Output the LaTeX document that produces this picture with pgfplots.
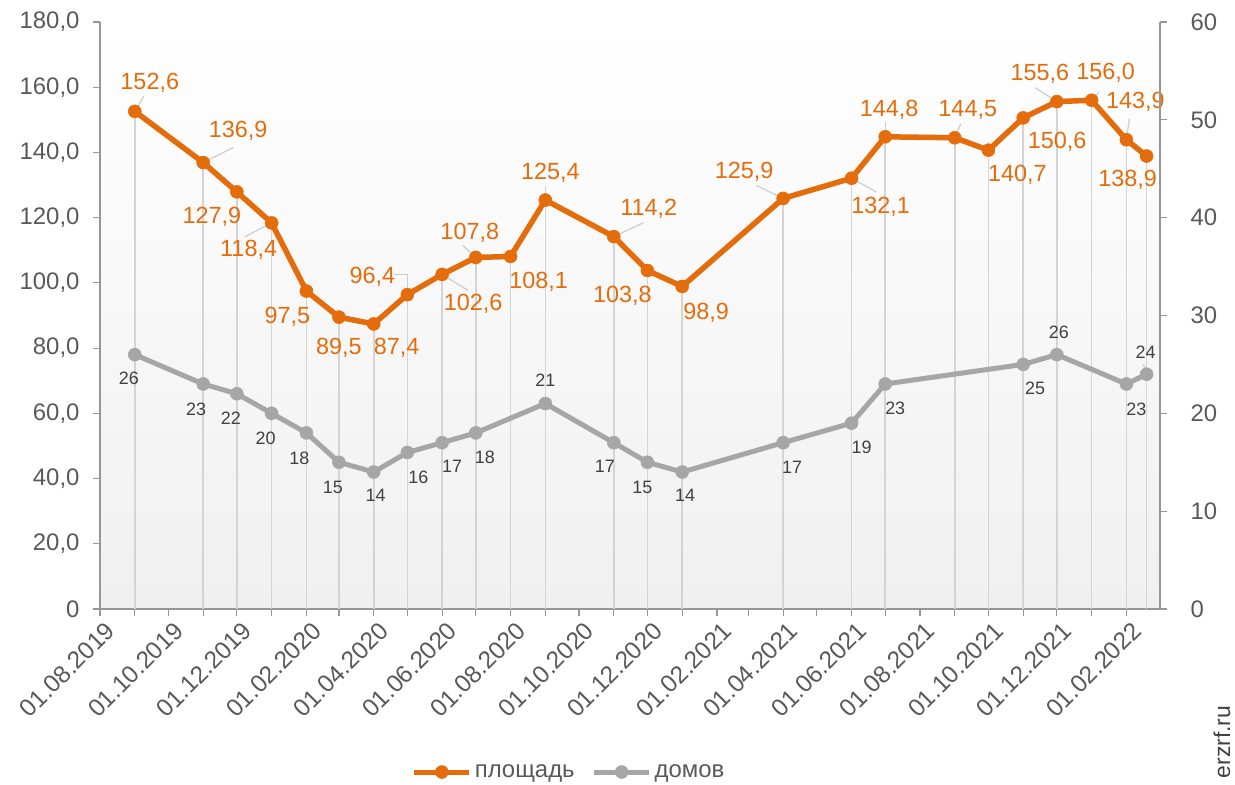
\documentclass[border=0pt]{standalone}
\usepackage{pgfplots}
\pgfplotsset{compat=1.18}
\usepackage{pgfplotstable}
\usepackage{fontspec}
\setmainfont{Liberation Sans}
\definecolor{cOrange}{RGB}{228,108,10}
\definecolor{cGray}{RGB}{166,166,166}
\definecolor{cTick}{RGB}{89,89,89}
\definecolor{cLab}{RGB}{64,64,64}
\definecolor{cDrop}{RGB}{212,212,212}
\definecolor{cLeader}{RGB}{205,205,205}
\definecolor{cAxis}{RGB}{150,150,150}
\definecolor{cBg}{RGB}{240,240,240}

% x = days since 01.08.2019
\pgfplotstableread{
x y dx dy
31 152.6 15 29
92 136.9 35 32
122 127.9 -25 -25
153 118.4 -23 -27
184 97.5 -19 -26
213 89.5 0 -31
244 87.4 23 -24
274 96.4 -35 18
305 102.6 31 -29
335 107.8 -6 25
366 108.1 28 -25
397 125.4 5 27
458 114.2 35 28
488 103.8 -25 -25
519 98.9 24 -26
609 125.9 -39 27
670 132.1 29 -29
700 144.8 4 27
762 144.5 13 28
792 140.7 29 -25
823 150.6 34 -24
853 155.6 -17 28
884 156.0 14 27
915 143.9 9 38
933 138.9 -19 -24
}\orangedata

\pgfplotstableread{
x y dx dy
31 26 -6 -24
92 23 -7 -25
122 22 -6 -24
153 20 -6 -25
184 18 -7 -25
213 15 -6 -25
244 14 2 -23
274 16 11 -25
305 17 10 -24
335 18 9 -24
397 21 0 23
458 17 -9 -24
488 15 -5 -25
519 14 3 -23
609 17 9 -25
670 19 10 -24
700 23 10 -24
823 25 12 -24
853 26 2 22
915 23 10 -25
933 24 -1 22
}\graydata

\pgfplotsset{
  /pgf/number format/assume math mode=true,
  common/.style={
    at={(0,0)}, anchor=south west, scale only axis,
    width=1060bp, height=587bp,
    xmin=0, xmax=945,
    clip=false,
    axis line style={cAxis, line width=1.2bp},
    tick style={cAxis, line width=1.2bp},
    tick align=outside,
    major tick length=7bp, minor tick length=7bp,
    tick label style={font=\fontsize{24}{28}\selectfont, text=cTick},
  },
  legend image code/.code={\draw[mark repeat=2,mark phase=2,#1] plot coordinates {(0bp,0bp) (27.5bp,0bp) (55bp,0bp)};},
}

\begin{document}
\begin{tikzpicture}
\shade[top color=white, bottom color=cBg] (0,0) rectangle (1060bp,587bp);
\begin{axis}[common,
  ymin=0, ymax=180,
  axis x line*=bottom, axis y line*=left,
  xtick={0,61,122,184,244,305,366,427,488,550,609,670,731,792,853,915},
  xticklabels={01.08.2019,01.10.2019,01.12.2019,01.02.2020,01.04.2020,01.06.2020,01.08.2020,01.10.2020,01.12.2020,01.02.2021,01.04.2021,01.06.2021,01.08.2021,01.10.2021,01.12.2021,01.02.2022},
  minor xtick={31,92,153,213,274,335,397,458,519,578,639,700,762,823,884},
  xticklabel style={rotate=45, anchor=north east, font=\fontsize{24.5}{28}\selectfont, inner sep=2bp, yshift=-4bp, xshift=2bp},
  ytick={0,20,...,180},
  yticklabel style={xshift=-10bp},
  yticklabels={0,{20,0},{40,0},{60,0},{80,0},{100,0},{120,0},{140,0},{160,0},{180,0}},
]
\addplot[ycomb, draw=cDrop, line width=1.6bp, no markers] table[x=x,y=y] {\orangedata};
\begin{scope}[cLeader, line width=1.2bp]
\draw (axis cs:31,152.6) -- ++(9bp,15bp);
\draw (axis cs:92,136.9) -- ++(30bp,15bp);
\draw (axis cs:153,118.4) -- ++(-27bp,-14bp);
\draw (axis cs:274,96.4) -- ++(0bp,20bp) -- ++(-13bp,0bp);
\draw (axis cs:335,107.8) -- ++(-13bp,12bp);
\draw (axis cs:305,102.6) -- ++(26bp,-16bp);
\draw (axis cs:458,114.2) -- ++(30bp,14bp);
\draw (axis cs:397,125.4) -- ++(0bp,14bp);
\draw (axis cs:609,125.9) -- ++(-27bp,13bp);
\draw (axis cs:670,132.1) -- ++(25bp,-14bp);
\draw (axis cs:700,144.8) -- ++(0bp,15bp);
\draw (axis cs:762,144.5) -- ++(6bp,14bp);
\draw (axis cs:853,155.6) -- ++(-22bp,14bp);
\draw (axis cs:884,156.0) -- ++(7bp,8bp);
\draw (axis cs:915,143.9) -- ++(3bp,21bp);
\end{scope}
\addplot[cOrange, line width=5.5bp, line join=round, mark=*, mark size=6.5bp,
  mark options={line width=0.5bp, fill=cOrange, draw=cOrange},
  point meta=explicit,
  nodes near coords={\pgfmathprintnumber[fixed,fixed zerofill,precision=1,use comma]{\pgfplotspointmeta}},
  visualization depends on={\thisrow{dx}\as\ldx},
  visualization depends on={\thisrow{dy}\as\ldy},
  every node near coord/.append style={anchor=center, xshift=\ldx bp, yshift=\ldy bp,
    font=\fontsize{23.5}{28}\selectfont, text=cOrange, inner sep=0pt},
] table[x=x,y=y,meta=y] {\orangedata};
\end{axis}
\begin{axis}[common,
  ymin=0, ymax=60,
  axis x line=none, axis y line*=right,
  ytick={0,10,...,60},
  yticklabel style={xshift=20bp},
  legend style={at={(0.443,-0.2777)}, anchor=center, draw=none, fill=none,
    legend columns=2, font=\fontsize{24}{28}\selectfont, text=cTick,
    /tikz/every even column/.append style={column sep=14bp},
    nodes={inner sep=3bp}},
  legend cell align=left,
]
\draw[cLeader, line width=1.2bp] (axis cs:397,21) -- ++(0bp,11bp);
\draw[cLeader, line width=1.2bp] (axis cs:933,24) -- ++(-3bp,10bp);
\addlegendimage{cOrange, line width=5bp, mark=*, mark size=6.5bp, mark options={line width=0.5bp, fill=cOrange, draw=cOrange}}
\addlegendentry{площадь}
\addlegendimage{cGray, line width=5bp, mark=*, mark size=6.5bp, mark options={line width=0.5bp, fill=cGray, draw=cGray}}
\addlegendentry{домов}
\addplot[cGray, line width=5bp, line join=round, mark=*, mark size=6.5bp, forget plot,
  mark options={line width=0.5bp, fill=cGray, draw=cGray},
  point meta=explicit,
  nodes near coords={\pgfmathprintnumber[fixed,precision=0]{\pgfplotspointmeta}},
  visualization depends on={\thisrow{dx}\as\ldx},
  visualization depends on={\thisrow{dy}\as\ldy},
  every node near coord/.append style={anchor=center, xshift=\ldx bp, yshift=\ldy bp,
    font=\fontsize{18}{21}\selectfont, text=cLab, inner sep=0pt},
] table[x=x,y=y,meta=y] {\graydata};
\end{axis}
\node[rotate=90, font=\fontsize{23}{27}\selectfont, text=cLab] at (1122bp,-133bp) {erzrf.ru};
\pgfresetboundingbox
\path[use as bounding box] (-100bp,-176bp) rectangle (1135bp,609bp);
\end{tikzpicture}
\end{document}
